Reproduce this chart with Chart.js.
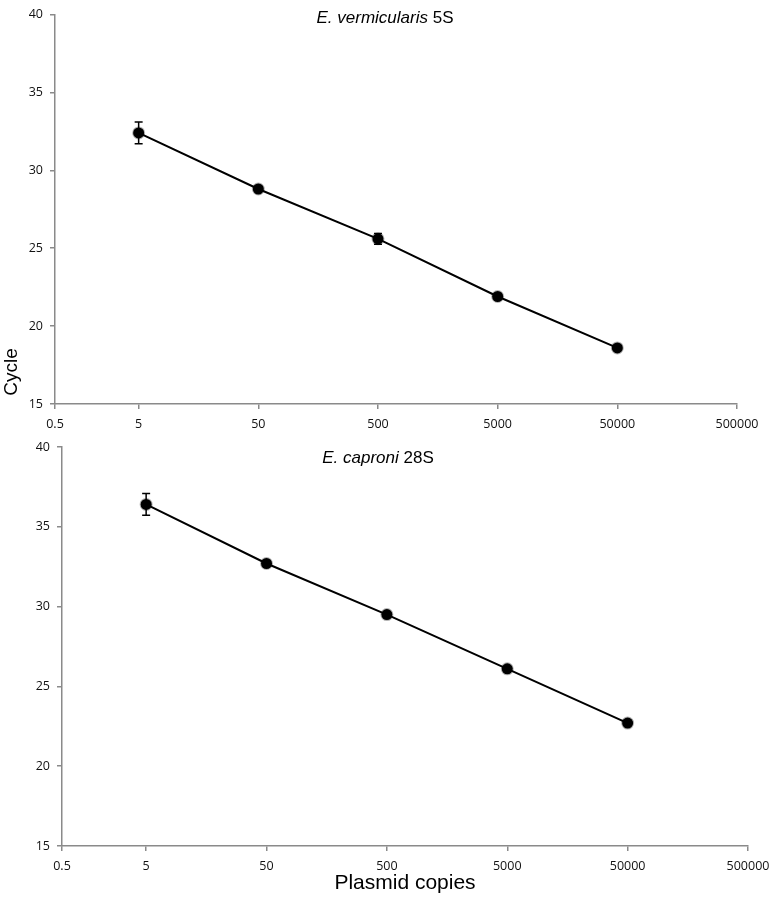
<!DOCTYPE html>
<html>
<head>
<meta charset="utf-8">
<script src="https://cdn.jsdelivr.net/npm/chart.js@4"></script>
<style>
  body { margin: 0; background: #fff; }
  #wrap { position: relative; width: 770px; height: 900px; }
  #topChart { position: absolute; left: 0; top: 0; }
  #bottomChart { position: absolute; left: 0; top: 410px; }
</style>
</head>
<body>
<div id="wrap">
  <canvas id="topChart" width="770" height="445"></canvas>
  <canvas id="bottomChart" width="770" height="490"></canvas>
</div>
<script>
// plasmid copies on the x axis
const copies = [5, 50, 500, 5000, 50000];

// E. vermicularis 5S
const vermicularisCycle = [32.4, 28.8, 25.6, 21.9, 18.6];
const vermicularisError = [0.7, 0.1, 0.35, 0.1, 0.1];

// E. caproni 28S
const caproniCycle = [36.4, 32.7, 29.5, 26.1, 22.7];
const caproniError = [0.68, 0.1, 0.1, 0.1, 0.1];

// the axis starts a bit below 5 but its first label reads 0.5
const xTickValues = [1, 5, 50, 500, 5000, 50000, 500000];
const xTickLabels = ['0.5', '5', '50', '500', '5000', '50000', '500000'];

const tickFont = { family: 'Open Sans', size: 12.5 };
const axisGrey = '#8a8a8a';

// vertical error bars with small caps
const errorBars = {
    id: 'errorBars',
    afterDatasetsDraw(chart, args, opts) {
        const ctx = chart.ctx;
        const xs = chart.scales.x;
        const ys = chart.scales.y;
        const pts = chart.data.datasets[0].data;
        ctx.save();
        ctx.strokeStyle = '#000';
        ctx.lineWidth = 1.5;
        pts.forEach((p, i) => {
            const e = opts.errors[i];
            if (!e) return;
            const px = xs.getPixelForValue(p.x);
            const top = ys.getPixelForValue(p.y + e);
            const bot = ys.getPixelForValue(p.y - e);
            ctx.beginPath();
            ctx.moveTo(px, top); ctx.lineTo(px, bot);
            ctx.moveTo(px - 4, top); ctx.lineTo(px + 4, top);
            ctx.moveTo(px - 4, bot); ctx.lineTo(px + 4, bot);
            ctx.stroke();
        });
        ctx.restore();
    }
};

// title with an italic species name, plus the shared "Cycle" label
const textLabels = {
    id: 'textLabels',
    afterDraw(chart, args, opts) {
        const ctx = chart.ctx;
        const italic = 'italic 17px "Liberation Sans"';
        const plain = '17px "Liberation Sans"';
        ctx.save();
        ctx.fillStyle = '#000';
        ctx.textBaseline = 'middle';
        ctx.textAlign = 'left';
        ctx.font = italic;
        const w1 = ctx.measureText(opts.italic).width;
        ctx.font = plain;
        const w2 = ctx.measureText(opts.plain).width;
        const x0 = opts.x - (w1 + w2) / 2;
        ctx.font = italic;
        ctx.fillText(opts.italic, x0, opts.y);
        ctx.font = plain;
        ctx.fillText(opts.plain, x0 + w1, opts.y);
        if (opts.side) {
            ctx.translate(opts.side.x, opts.side.y);
            ctx.rotate(-Math.PI / 2);
            ctx.textAlign = 'center';
            ctx.font = '19px "Liberation Sans"';
            ctx.fillText(opts.side.text, 0, 0);
        }
        ctx.restore();
    }
};

function buildConfig(cycles, errors, title, box) {
    return {
        type: 'scatter',
        data: {
            datasets: [{
                data: copies.map((c, i) => ({ x: c, y: cycles[i] })),
                showLine: true,
                borderColor: '#000',
                borderWidth: 2,
                pointRadius: 5.5,
                pointBackgroundColor: '#000',
                pointBorderColor: 'rgba(0, 0, 0, 0.3)',
                pointBorderWidth: 2
            }]
        },
        options: {
            responsive: false,
            animation: false,
            layout: {
                padding: { top: box.top, right: box.right, left: 0, bottom: 0 }
            },
            plugins: {
                legend: { display: false },
                tooltip: { enabled: false },
                errorBars: { errors: errors },
                textLabels: title
            },
            scales: {
                x: {
                    type: 'logarithmic',
                    min: 1,
                    max: 500000,
                    afterBuildTicks: (scale) => {
                        scale.ticks = xTickValues.map(v => ({ value: v }));
                    },
                    // fixed height, and no extra room for the end labels
                    afterFit: (scale) => {
                        scale.height = box.xHeight;
                        scale.paddingLeft = 0;
                        scale.paddingRight = 0;
                    },
                    ticks: {
                        autoSkip: false,
                        maxRotation: 0,
                        padding: 8,
                        color: '#111',
                        font: tickFont,
                        callback: (value, index) => xTickLabels[index]
                    },
                    grid: {
                        drawOnChartArea: false,
                        tickLength: 5,
                        color: axisGrey,
                        lineWidth: 1.5
                    },
                    border: { color: axisGrey, width: 1.5 },
                    title: {
                        display: !!box.xTitle,
                        text: box.xTitle,
                        color: '#000',
                        font: { family: 'Liberation Sans', size: 21 },
                        padding: { top: 0, bottom: 4 }
                    }
                },
                y: {
                    min: 15,
                    max: 40,
                    afterFit: (scale) => { scale.width = box.yWidth; },
                    ticks: {
                        stepSize: 5,
                        padding: 7,
                        color: '#111',
                        font: tickFont
                    },
                    grid: {
                        drawOnChartArea: false,
                        tickLength: 5,
                        color: axisGrey,
                        lineWidth: 1.5
                    },
                    border: { color: axisGrey, width: 1.5 }
                }
            }
        },
        plugins: [errorBars, textLabels]
    };
}

window.topChart = new Chart(
    document.getElementById('topChart'),
    buildConfig(vermicularisCycle, vermicularisError,
        { italic: 'E. vermicularis', plain: ' 5S', x: 385, y: 18,
          side: { text: 'Cycle', x: 12, y: 372 } },
        { top: 6, right: 33, yWidth: 55, xHeight: 41 })
);

window.bottomChart = new Chart(
    document.getElementById('bottomChart'),
    buildConfig(caproniCycle, caproniError,
        { italic: 'E. caproni', plain: ' 28S', x: 378, y: 48 },
        { top: 37, right: 22, yWidth: 62, xHeight: 54, xTitle: 'Plasmid copies' })
);
</script>
</body>
</html>
